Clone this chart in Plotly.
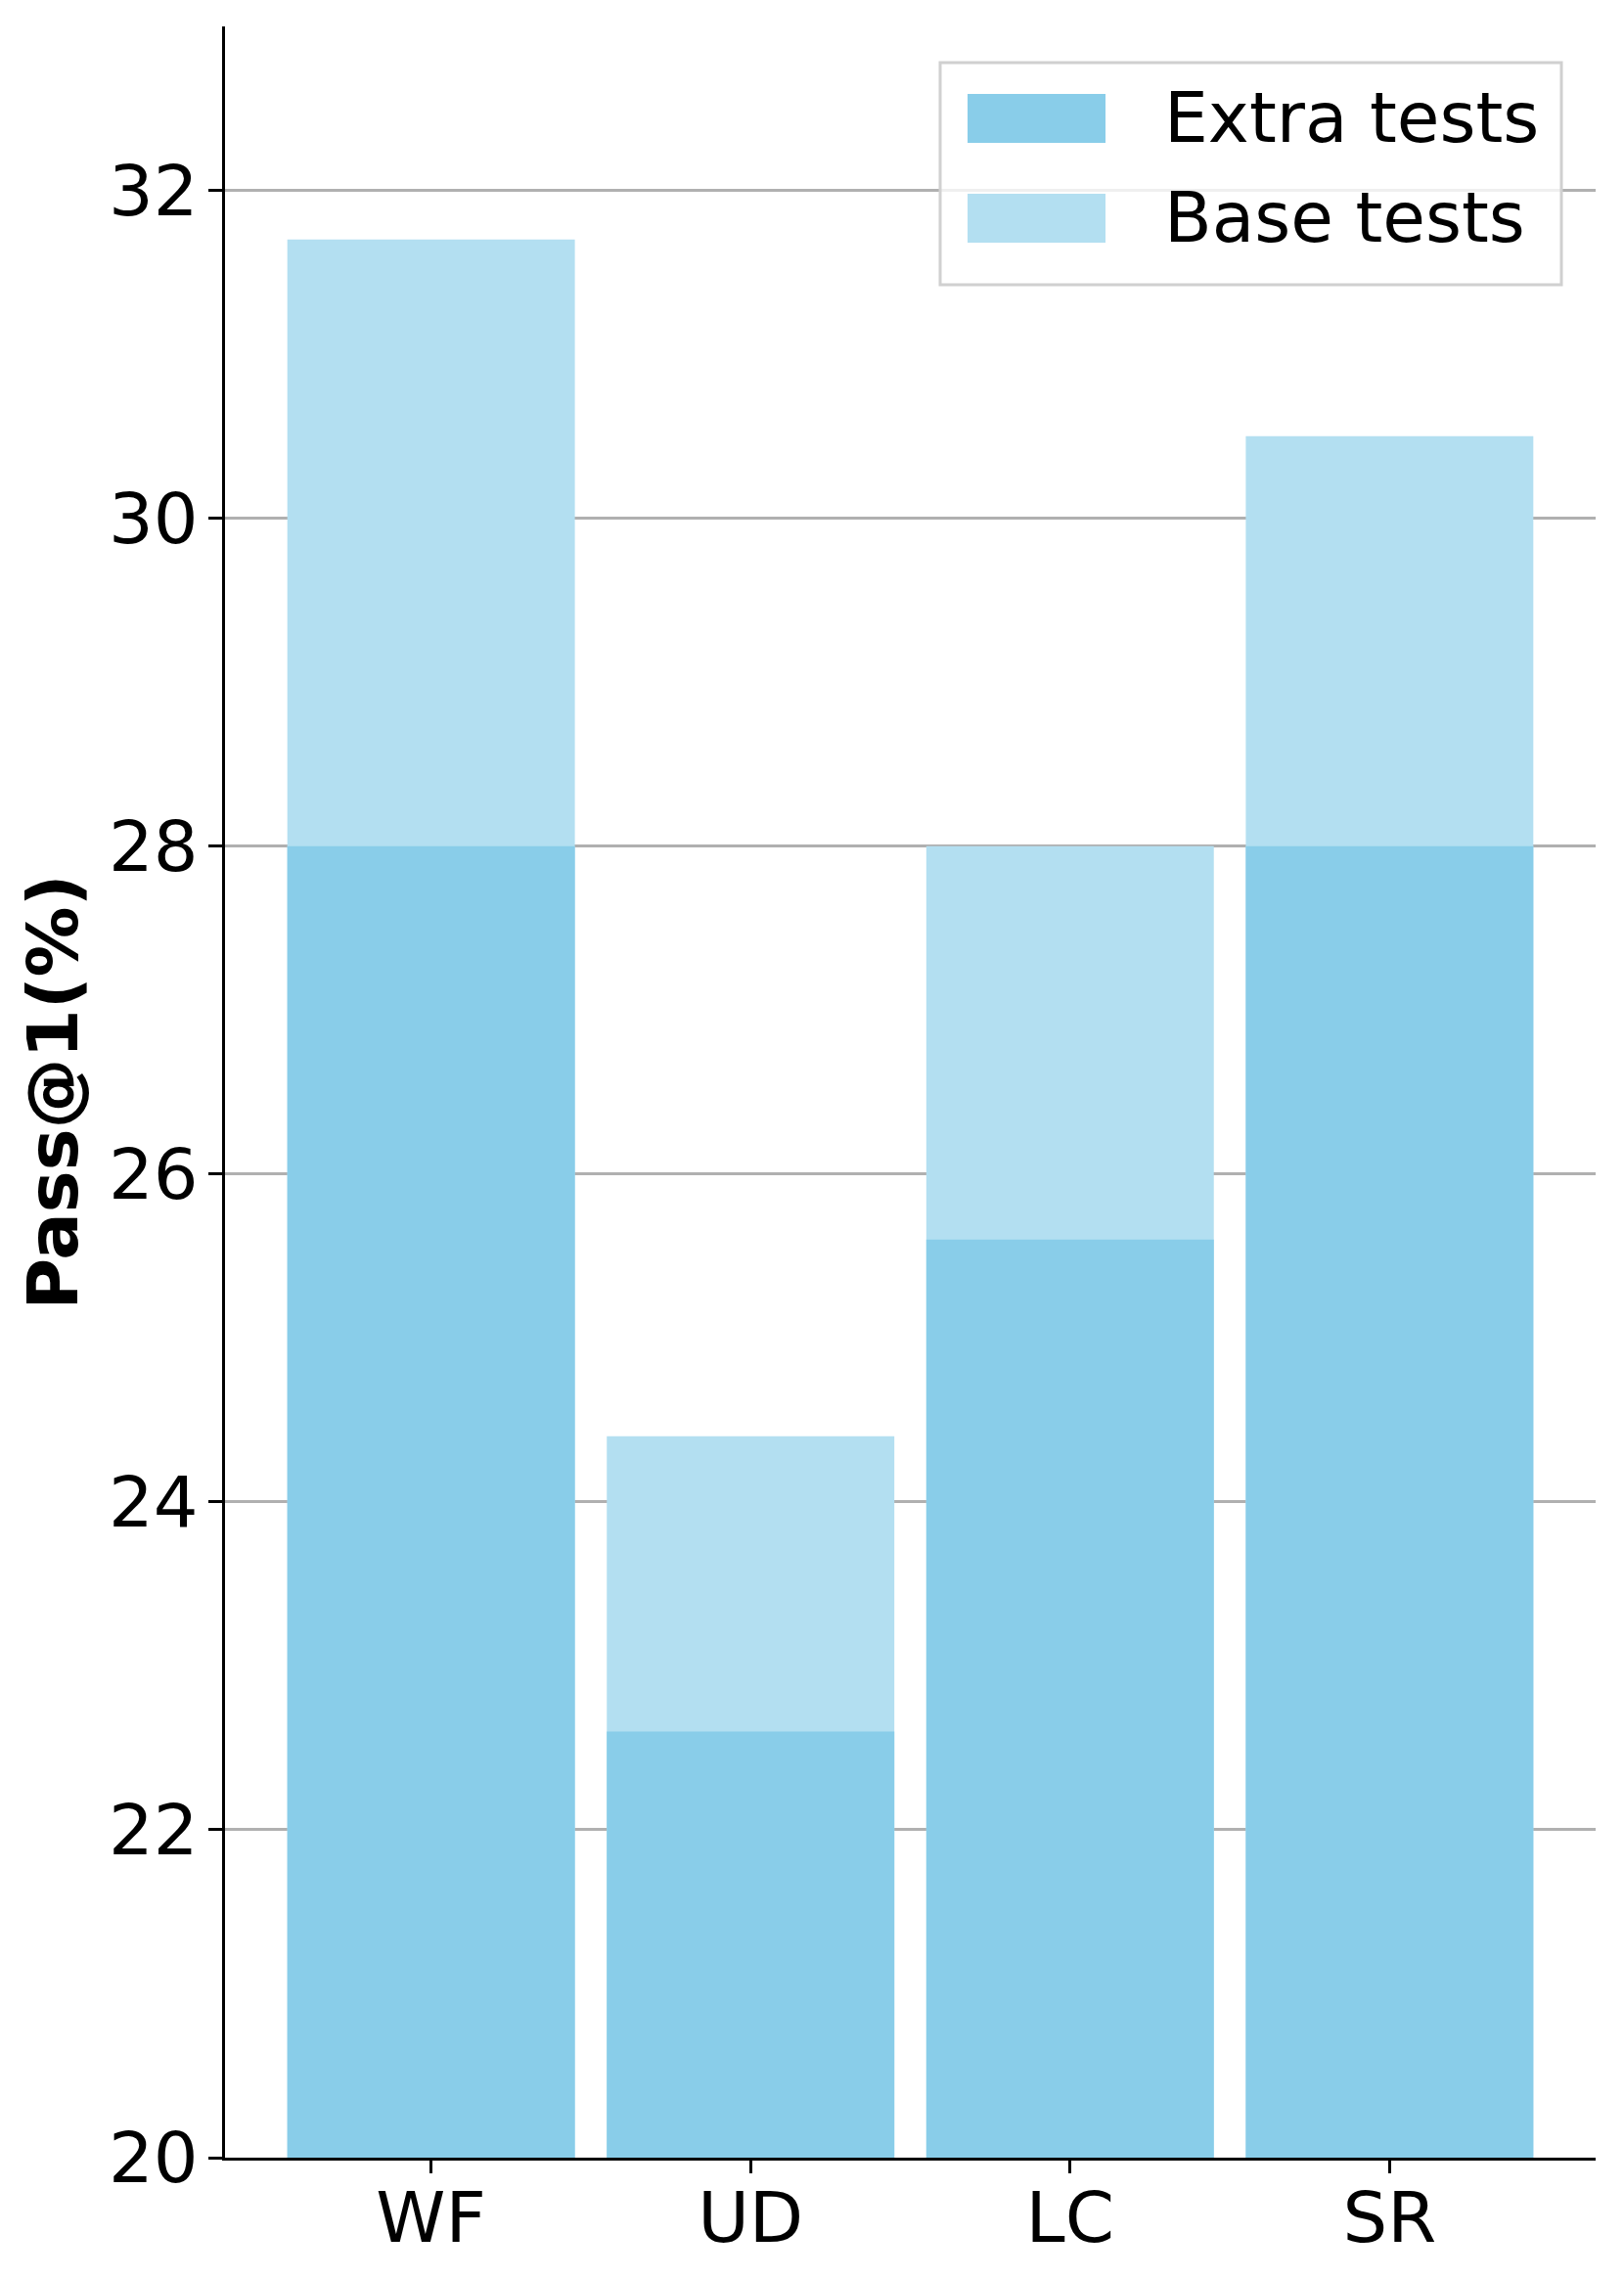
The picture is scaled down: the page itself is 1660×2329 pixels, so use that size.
import plotly.graph_objects as go

categories = ["WF", "UD", "LC", "SR"]
base_tests = [31.7, 24.4, 28.0, 30.5]
extra_tests = [28.0, 22.6, 25.6, 28.0]
y_ticks = [20, 22, 24, 26, 28, 30, 32]

DARK = "#89CDE9"
LIGHT = "#B3DFF1"
FONT = "DejaVu Sans"
FS = 72

OFF = 8  # page body margin
W, H = 1660 - OFF, 2329 - OFF
ML, MT = 230 - OFF, 27 - OFF
MR = W - (1631 - OFF)
MB = H - (2205 - OFF)

x = list(range(len(categories)))

fig = go.Figure()
fig.add_trace(go.Bar(x=x, y=base_tests, name="Base tests", marker=dict(color=LIGHT, line=dict(width=0)),
                     width=0.9, showlegend=False))
fig.add_trace(go.Bar(x=x, y=extra_tests, name="Extra tests", marker=dict(color=DARK, line=dict(width=0)),
                     width=0.9, showlegend=False))

fig.update_layout(
    width=W, height=H,
    margin=dict(l=ML, r=MR, t=MT, b=MB, autoexpand=False),
    barmode="overlay",
    plot_bgcolor="white", paper_bgcolor="white",
    font=dict(family=FONT, size=FS, color="black"),
)
fig.update_xaxes(
    range=[-0.645, 3.645], tickvals=x, ticktext=categories,
    showline=True, linecolor="black", linewidth=3,
    ticks="outside", ticklen=13, tickwidth=3, tickcolor="black",
    showgrid=False, zeroline=False, automargin=False, ticklabelstandoff=-16,
)
fig.update_yaxes(
    range=[20, 33], tickvals=y_ticks,
    showline=True, linecolor="black", linewidth=3,
    ticks="outside", ticklen=14, tickwidth=3, tickcolor="black",
    showgrid=True, gridcolor="#b0b0b0", gridwidth=3, zeroline=False, automargin=False,
    ticklabelstandoff=-4,
    title=dict(text="<b>Pass@1(%)</b>", standoff=8, font=dict(size=FS)),
)

# Custom legend (positions in page pixels, converted to paper coordinates)
PW = W - ML - MR
PH = H - MT - MB

def fx(p):
    return (p - OFF - ML) / PW

def fy(p):
    return (H - MB - (p - OFF)) / PH

legend_items = [("Extra tests", DARK), ("Base tests", LIGHT)]
fig.add_shape(type="rect", xref="paper", yref="paper",
              x0=fx(961), x1=fx(1596), y0=fy(291), y1=fy(64),
              line=dict(color="#d0d0d0", width=3), fillcolor="rgba(255,255,255,0.8)", layer="above")
row_centers = [121, 223]
for (label, col), cy in zip(legend_items, row_centers):
    fig.add_shape(type="rect", xref="paper", yref="paper",
                  x0=fx(989), x1=fx(1130), y0=fy(cy + 25), y1=fy(cy - 25),
                  line=dict(width=0), fillcolor=col, layer="above")
    fig.add_annotation(xref="paper", yref="paper",
                       x=fx(1188), y=fy(cy),
                       text=label, showarrow=False, xanchor="left", yanchor="middle",
                       font=dict(family=FONT, size=71, color="black"))

fig.write_html("out.html")
